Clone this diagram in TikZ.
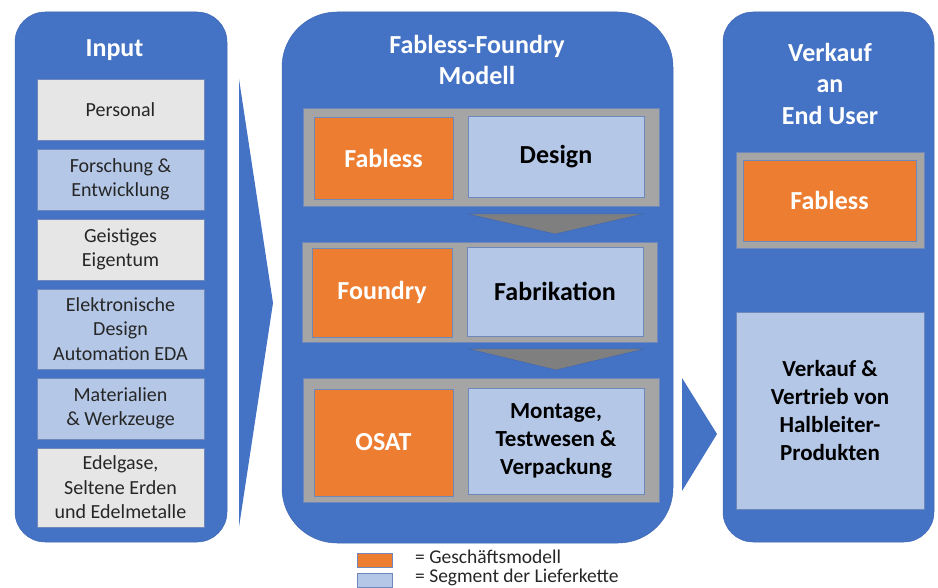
\documentclass[tikz,border=0pt]{standalone}
\usepackage{fontspec}
\setmainfont{Carlito}
\definecolor{pblue}{HTML}{4472C4}
\definecolor{pedge}{HTML}{3F68B3}
\definecolor{lblue}{HTML}{B4C7E7}
\definecolor{lgray}{HTML}{E7E6E6}
\definecolor{fgray}{HTML}{A5A5A5}
\definecolor{agray}{HTML}{7F7F7F}
\definecolor{orng}{HTML}{ED7D31}
\definecolor{bedge}{HTML}{6F88BB}
\begin{document}
\begin{tikzpicture}[x=1pt,y=-1pt,
  panel/.style={fill=pblue, draw=pedge, line width=0.5pt, rounded corners=#1, inner sep=0pt},
  ttl/.style={text=white, font={\fontsize{26}{31.5}\selectfont\bfseries}, align=center, inner sep=0pt},
  lbox/.style={draw=bedge, line width=0.6pt, minimum width=167pt, inner sep=0pt, align=center,
    font={\fontsize{20}{24.4}\selectfont}, text=black!85},
  frm/.style={fill=fgray, draw=bedge, line width=0.6pt, inner sep=0pt},
  obox/.style={fill=orng, draw=bedge, line width=0.6pt, inner sep=0pt, align=center, text=white,
    font={\fontsize{26}{31.5}\selectfont\bfseries}},
  bbox/.style={fill=lblue, draw=bedge, line width=0.6pt, inner sep=0pt, align=center, text=black,
    font={\fontsize{26}{31.5}\selectfont\bfseries}},
  sbold/.style={font={\fontsize{23}{28}\selectfont\bfseries}},
  barrow/.style={fill=pblue},
  garrow/.style={fill=agray, draw=pedge, line width=0.5pt},
  legbox/.style={draw=bedge, line width=0.6pt, minimum width=35pt, minimum height=14pt, inner sep=0pt},
  legtxt/.style={font={\fontsize{19.5}{19}\selectfont}, text=black!85, inner sep=0pt, align=left, anchor=north west}
]
\useasboundingbox (0,0) rectangle (938,588);

% panels
\node[panel=30pt, minimum width=212pt, minimum height=530pt] (inP) at (121,277) {};
\node[panel=55pt, minimum width=391pt, minimum height=531pt] (midP) at (477.5,277.5) {};
\node[panel=30pt, minimum width=211pt, minimum height=530pt] (endP) at (828.5,277) {};

% titles
\node[ttl, anchor=base] (tIn) at (114.5,57) {Input};
\node[ttl] (tMid) at (477,60) {Fabless-Foundry\\Modell};
\node[ttl] (tEnd) at (830,83.5) {Verkauf\\an\\End User};

% input boxes
\node[lbox, fill=lgray, minimum height=61pt] (personal) at (120.5,109.5) {Personal};
\node[lbox, fill=lblue, minimum height=61pt] (fue) at (120.5,179.5) {Forschung \&\\Entwicklung};
\node[lbox, fill=lgray, minimum height=61pt] (ip) at (120.5,249.5) {Geistiges\\Eigentum};
\node[lbox, fill=lblue, minimum height=80pt] (eda) at (120.5,329) {Elektronische\\Design\\Automation EDA};
\node[lbox, fill=lblue, minimum height=61pt] (mat) at (120.5,408.5) {Materialien\\\& Werkzeuge};
\node[lbox, fill=lgray, minimum height=79pt] (gas) at (120.5,487.5) {Edelgase,\\Seltene Erden\\und Edelmetalle};

% big arrow input -> middle
\coordinate (la1) at (239,79);
\coordinate (la2) at (273,303);
\coordinate (la3) at (239,527);
\fill[barrow] (la1) -- (la2) -- (la3) -- cycle;

% middle rows
\node[frm, minimum width=356pt, minimum height=98pt] (row1) at (481,157) {};
\node[obox, minimum width=139pt, minimum height=82pt] (fabless) at (383.5,158) {Fabless};
\node[bbox, minimum width=176pt, minimum height=81pt] (design) at (556,156.5) {Design};

\node[frm, minimum width=355pt, minimum height=100pt] (row2) at (479.5,292) {};
\node[obox, minimum width=140pt, minimum height=89pt] (foundry) at (382,292.5) {Foundry};
\node[bbox, minimum width=176pt, minimum height=89pt] (fab) at (555,291.5) {Fabrikation};

\node[frm, minimum width=356pt, minimum height=124pt] (row3) at (481,440) {};
\node[obox, minimum width=139pt, minimum height=107pt] (osat) at (383.5,442.5) {OSAT};
\node[bbox, sbold, minimum width=176pt, minimum height=106pt] (atp) at (556,441) {Montage,\\Testwesen \&\\Verpackung};

% gray arrows
\coordinate (g1a) at (468,214);
\coordinate (g1b) at (643,214);
\coordinate (g1c) at (555,234);
\draw[garrow] (g1a) -- (g1b) -- (g1c) -- cycle;
\coordinate (g2a) at (469,349);
\coordinate (g2b) at (644,349);
\coordinate (g2c) at (556,370);
\draw[garrow] (g2a) -- (g2b) -- (g2c) -- cycle;

% arrow middle -> end
\coordinate (ra1) at (682,378);
\coordinate (ra2) at (717,434);
\coordinate (ra3) at (682,491);
\fill[barrow] (ra1) -- (ra2) -- (ra3) -- cycle;

% end user panel content
\node[frm, minimum width=188pt, minimum height=96pt] (efrm) at (830,200) {};
\node[obox, minimum width=173pt, minimum height=81pt] (efab) at (829.5,200.5) {Fabless};
\node[bbox, sbold, minimum width=188pt, minimum height=197pt] (sales) at (830,410.5) {Verkauf \&\\Vertrieb von\\Halbleiter-\\Produkten};

% legend
\node[legbox, fill=orng] (lgo) at (374.5,560) {};
\node[legbox, fill=lblue] (lgb) at (374.5,580) {};
\node[legtxt] (ltx) at (415,550) {= Geschäftsmodell\\= Segment der Lieferkette};
\end{tikzpicture}
\end{document}
